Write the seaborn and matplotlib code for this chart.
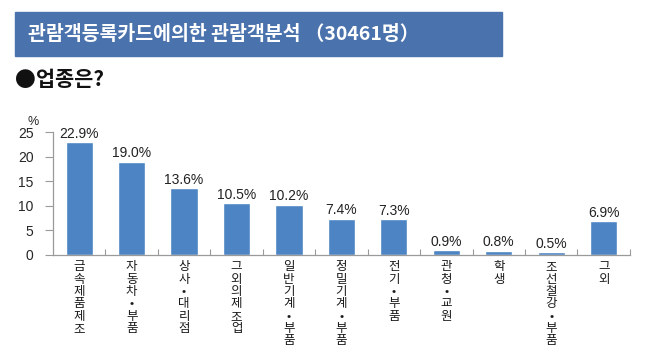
import matplotlib
matplotlib.use('Agg')
import matplotlib.pyplot as plt
import seaborn as sns
import pandas as pd
from matplotlib.patches import Rectangle
from matplotlib.ticker import FixedLocator

# 업종별 비율 (%)
categories = ['금속제품제조', '자동차•부품', '상사•대리점', '그 외의 제조업', '일반기계•부품',
              '정밀기계•부품', '전기•부품', '관청•교원', '학생', '조선철강•부품', '그 외']
values = [22.9, 19.0, 13.6, 10.5, 10.2, 7.4, 7.3, 0.9, 0.8, 0.5, 6.9]
yticks = [0, 5, 10, 15, 20, 25]

title = '관람객등록카드에의한 관람객분석 （30461명）'
subtitle = '●업종은?'

sns.set_style('white')
plt.rcParams['font.family'] = ['Noto Sans CJK KR', 'DejaVu Sans']

bar_color = '#4c84c4'
grey = '#9a9a9a'

df = pd.DataFrame({'업종': categories, '비율': values})

fig = plt.figure(figsize=(6.5, 3.54), dpi=100)
ax = fig.add_axes([0.0815, 0.28, 0.8875, 0.347])

sns.barplot(data=df, x='업종', y='비율', color=bar_color, width=0.52,
            saturation=1, ax=ax)

ax.set_ylim(0, 25)
ax.set_xlim(-0.5, len(categories) - 0.5)
ax.set_yticks(yticks)
ax.set_yticklabels([str(t) for t in yticks], family='Liberation Sans', fontsize=10)
ax.set_xlabel('')
ax.set_ylabel('')

# 세로 글자 라벨 (공백은 건너뜀)
vlabels = ['\n'.join(c for c in lab if c != ' ') for lab in categories]
ax.set_xticks(range(len(categories)))
ax.set_xticklabels(vlabels, fontsize=9, linespacing=0.93, va='top',
                   color='#1a1a1a')
ax.tick_params(axis='x', length=0, pad=4)
ax.tick_params(axis='y', left=True, length=6, color=grey, width=0.8, pad=8)

# 카테고리 경계 눈금
ax.xaxis.set_minor_locator(FixedLocator([i + 0.5 for i in range(len(categories))]))
ax.tick_params(axis='x', which='minor', bottom=True, direction='in', length=4,
               color=grey, width=0.8)

for s in ['top', 'right']:
    ax.spines[s].set_visible(False)
for s in ['left', 'bottom']:
    ax.spines[s].set_color(grey)
    ax.spines[s].set_linewidth(0.9)

for i, v in enumerate(values):
    ax.text(i, v + 0.3, f'{v:.1f}%', ha='center', va='bottom',
            family='Liberation Sans', fontsize=10, color='#222222')

ax.text(-0.035, 1.03, '%', transform=ax.transAxes, ha='center', va='bottom',
        family='Liberation Sans', fontsize=9)

# 제목 배너
fig.patches.append(Rectangle((15 / 650, 1 - 56 / 354), 487 / 650, 44 / 354,
                             transform=fig.transFigure, color='#4a72ad', zorder=0))
fig.text(28 / 650, 1 - 34 / 354, title, color='white', fontsize=14,
         fontweight='bold', va='center', ha='left')
fig.text(15 / 650, 1 - 80 / 354, subtitle, color='#111111', fontsize=15,
         fontweight='bold', va='center', ha='left')

fig.savefig('out.png', dpi=100)
